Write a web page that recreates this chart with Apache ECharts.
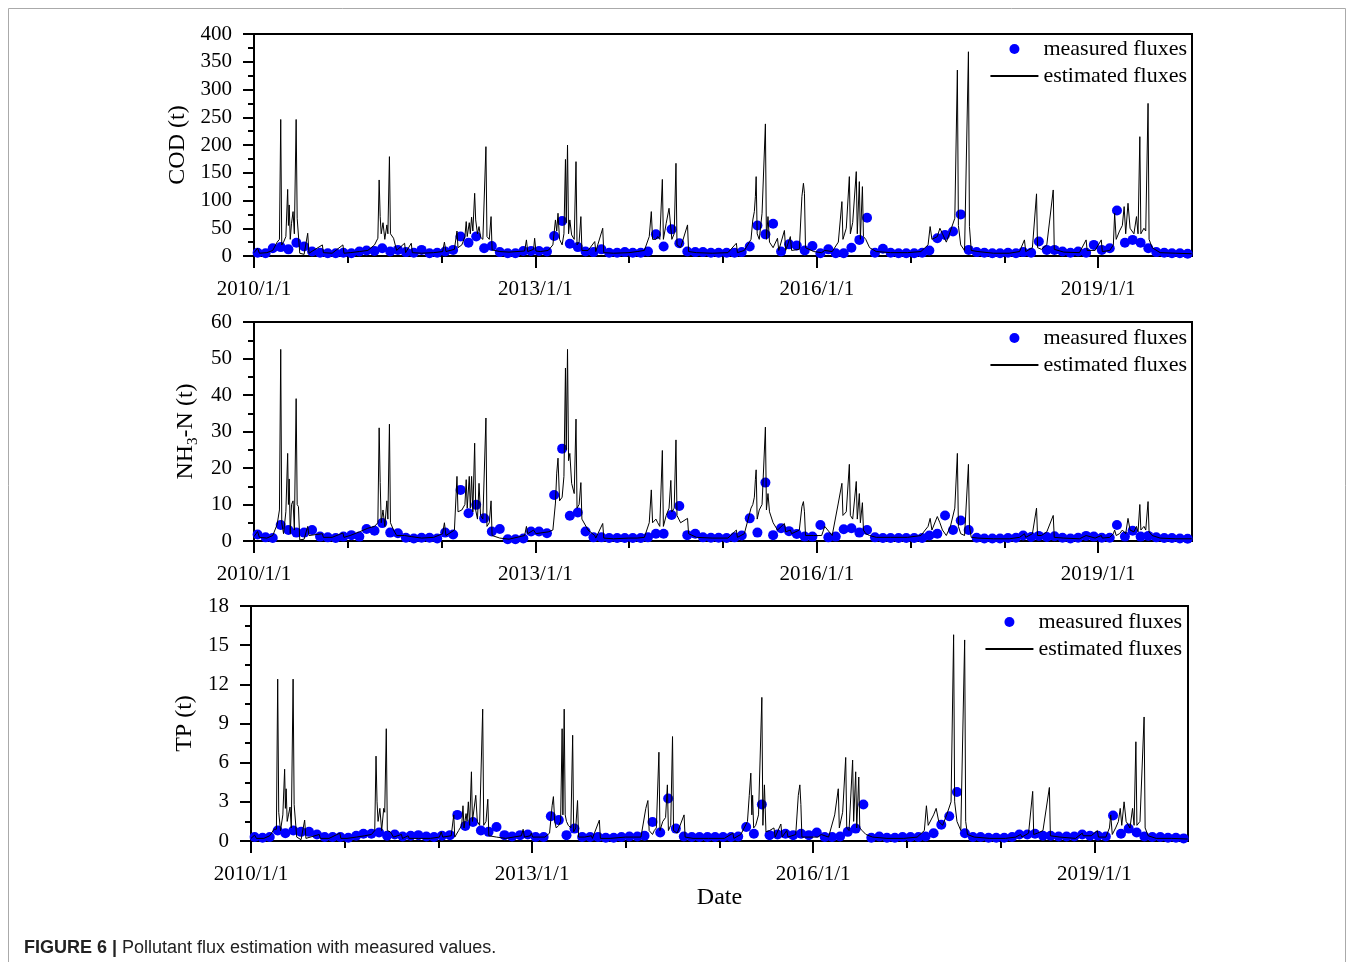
<!DOCTYPE html>
<html>
<head>
<meta charset="utf-8">
<script src="https://cdn.jsdelivr.net/npm/echarts@6/dist/echarts.min.js"></script>
<style>
  html, body { margin: 0; padding: 0; background: #fff; }
  #chart { width: 1354px; height: 962px; }
</style>
</head>
<body>
<div id="chart"></div>
<script>
  // dates of the estimated (daily model) curve, shared by the three panels
  const estDates = [
    // 2010
    '2010-01-01','2010-01-15','2010-01-22','2010-02-20','2010-03-15','2010-04-01','2010-04-10','2010-04-15','2010-04-19','2010-04-26',
    '2010-05-05','2010-05-12','2010-05-15','2010-05-18','2010-05-22','2010-05-27','2010-06-02','2010-06-07','2010-06-14','2010-06-18',
    '2010-06-23','2010-06-28','2010-07-15','2010-07-29','2010-08-03','2010-09-24','2010-09-28','2010-11-01','2010-12-13','2010-12-17',
    // 2011
    '2011-01-10','2011-02-15','2011-03-20','2011-04-15','2011-04-28','2011-05-03','2011-05-07','2011-05-11','2011-05-18','2011-05-25',
    '2011-06-02','2011-06-06','2011-06-12','2011-06-16','2011-06-28','2011-07-10','2011-08-10','2011-08-14','2011-09-05','2011-09-09',
    '2011-10-15','2011-12-01',
    // 2012
    '2012-01-05','2012-01-12','2012-01-18','2012-02-20','2012-03-01','2012-03-05','2012-03-20','2012-04-01','2012-04-06','2012-04-10',
    '2012-04-18','2012-04-22','2012-04-27','2012-05-02','2012-05-09','2012-05-13','2012-05-20','2012-05-26','2012-06-01','2012-06-10',
    '2012-06-22','2012-06-26','2012-07-05','2012-07-12','2012-07-16','2012-08-15','2012-09-20','2012-11-20','2012-11-27','2012-12-02',
    '2012-12-25','2012-12-29',
    // 2013
    '2013-01-03','2013-01-20','2013-02-20','2013-03-10','2013-03-20','2013-03-25','2013-03-30','2013-04-05','2013-04-15','2013-04-22',
    '2013-04-28','2013-05-01','2013-05-06','2013-05-10','2013-05-15','2013-05-22','2013-06-01','2013-06-08','2013-06-12','2013-06-20',
    '2013-06-27','2013-07-01','2013-07-25','2013-08-20','2013-08-24','2013-09-20','2013-09-24','2013-11-01','2013-12-31',
    // 2014
    '2014-02-01','2014-03-01','2014-03-20','2014-03-28','2014-04-02','2014-04-15','2014-04-22','2014-04-30','2014-05-10','2014-05-14',
    '2014-05-25','2014-06-05','2014-06-12','2014-06-16','2014-06-25','2014-07-02','2014-07-06','2014-07-20','2014-08-16','2014-08-20',
    '2014-09-20','2014-11-20',
    // 2015
    '2015-01-20','2015-02-22','2015-02-26','2015-03-25','2015-04-20','2015-04-27','2015-05-03','2015-05-07','2015-05-10','2015-05-14',
    '2015-05-22','2015-06-02','2015-06-15','2015-06-19','2015-06-25','2015-07-01','2015-07-15','2015-08-01','2015-08-06','2015-08-28',
    '2015-09-02','2015-09-20','2015-09-25','2015-10-25','2015-11-04','2015-11-10','2015-11-14','2015-11-18','2015-12-20',
    // 2016
    '2016-01-20','2016-02-01','2016-03-01','2016-03-25','2016-04-08','2016-04-12','2016-04-25','2016-05-07','2016-05-11','2016-05-20',
    '2016-06-03','2016-06-07','2016-06-15','2016-06-19','2016-06-27','2016-07-01','2016-07-10','2016-07-25','2016-08-20','2016-10-15',
    '2016-12-20',
    // 2017
    '2017-02-10','2017-03-10','2017-03-18','2017-03-25','2017-04-15','2017-04-25','2017-05-05','2017-05-20','2017-06-05','2017-06-22',
    '2017-07-02','2017-07-06','2017-07-15','2017-07-30','2017-08-14','2017-08-18','2017-08-25','2017-09-20','2017-11-20',
    // 2018
    '2018-01-20','2018-03-01','2018-03-20','2018-03-25','2018-04-20','2018-05-06','2018-05-10','2018-05-25','2018-06-15','2018-07-10',
    '2018-07-14','2018-08-20','2018-10-20','2018-11-15','2018-11-19','2018-12-20',
    // 2019
    '2019-01-13','2019-01-17','2019-02-15','2019-03-01','2019-03-06','2019-03-12','2019-03-25','2019-04-05','2019-04-12','2019-04-18',
    '2019-04-27','2019-05-05','2019-05-20','2019-05-30','2019-06-05','2019-06-12','2019-06-16','2019-06-28','2019-07-05','2019-07-14',
    '2019-07-18','2019-07-30','2019-08-30','2019-10-30','2019-12-31'
  ];

  const codEst = [
    6,14,5,6,10,25,30,246,20,25, 35,120,55,92,30,59,80,40,246,68, 68,5,3,41,5,20,6,5,20,5,
    6,8,10,20,32,137,71,40,60,30, 56,40,179,40,32,10,23,6,23,6, 5,6,
    8,25,8,12,45,15,20,35,62,35, 60,40,70,45,113,65,40,53,34,30, 197,35,30,71,11,8,7,9,29,8, 12,32,
    9,8,10,20,65,45,77,30,20,40, 174,60,200,40,65,38,30,170,20,25, 71,10,10,26,8,50,6,5,6,
    8,10,35,80,30,30,35,30,138,30, 59,86,89,30,40,167,20,15,56,8, 6,5,
    6,23,6,10,30,65,80,107,143,40, 30,77,238,30,71,25,15,32,10,46, 10,35,10,12,107,131,113,15,8,
    6,10,8,25,98,30,50,143,40,60, 152,40,134,30,125,35,30,15,8,6, 6,
    8,20,53,30,35,50,40,25,45,68, 335,55,20,10,368,53,10,8,5,
    5,8,29,8,15,112,15,12,20,119, 12,7,6,29,10,10,
    29,8,10,20,77,30,45,55,89,40, 95,50,40,71,40,215,40,50,45,275, 30,15,6,5,4
  ];

  const nh3Est = [
    1.2,2.6,1.0,0.8,1.5,4.5,8.5,52.5,5,2, 8,24,10,17,2,10,11,3,39,10, 9.4,0.3,0.5,4,1.5,2,1,1,2.2,1,
    1.5,2.5,3.5,4,5,31,16,5,8.5,4, 11,6,32,5,3,1.5,1.5,1,1.2,0.8, 0.8,1,
    2,5,1.5,3,17.7,8,8.5,10,16.8,9, 17.7,9,17.7,8,26.8,8.5,6,15.8,7,6, 33.7,4,5,11,1.5,0.8,0.5,1.5,4,2, 3,3.5,
    2,2.2,2.5,3,10.4,18.6,22.7,11,12,17.7, 47.4,25,52.5,22,24,15.8,13,33.4,9,10, 16,6,3,1.5,0.8,4.8,0.8,0.6,0.8,
    0.8,1,5,14,5,6,5,4,24.8,4, 7,9,16.6,8,9,27.7,7,5,6.2,2, 1,0.8,
    0.8,3,1,2,9,10,12,16.8,19.5,6, 8.5,10,31.2,8.5,13,8,5,3,2.5,4.8, 2.5,3,2,3,9.4,10.8,8,1.5,1.5,
    1.5,4,1.5,10.4,15.8,7,8,21,7,6, 16.3,6,13,5,10.5,3,2,1.5,1,1, 1,
    1.5,4,6.2,3,6.7,5,3,1.5,4,9, 24,4,2,1.5,21,4,1,0.8,0.6,
    0.6,1,2,1,2,9,1.5,1.5,2.5,7, 1,0.8,0.6,1.5,1,0.8,
    1.5,0.8,1,2,3,1.5,2,3,3.5,2, 6.2,3,2.5,4,2.5,10,3,4,3,10.8, 2.5,1.5,0.8,0.6,0.6
  ];

  const tpEst = [
    0.2,0.45,0.2,0.2,0.4,0.9,0.9,12.4,2.2,0.8, 2,5.5,2.5,4,1.5,2,2.6,1,12.4,2.8, 2.7,0.3,0.1,1.6,0.2,0.5,0.2,0.2,0.6,0.2,
    0.2,0.3,0.4,0.5,0.8,6.5,3,1.5,2.5,0.8, 2.5,2.2,8.6,0.8,0.7,0.3,0.5,0.2,0.4,0.2, 0.2,0.2,
    0.3,0.7,0.3,0.4,2,0.3,0.8,1.2,2.7,1, 2.1,1.5,3,1.2,5.3,1.5,1.5,3.5,1.5,1.2, 10.1,1.2,1.5,3.2,0.4,0.3,0.2,0.4,0.9,0.3, 0.4,0.6,
    0.3,0.3,0.3,0.6,2.7,3.4,1.5,1,1.2,1.5, 8.6,2,10.1,2,1.5,1.2,1,8.1,0.7,1, 3.1,0.3,0.3,0.4,0.2,1.6,0.2,0.2,0.3,
    0.3,0.3,2.5,3.1,0.8,0.5,0.8,1,6.8,0.8, 1.5,1.8,4.3,0.8,1.2,8,0.8,0.6,2,0.3, 0.2,0.2,
    0.2,0.6,0.2,0.5,1.5,3.5,5.2,2,3.5,1, 1.2,2,11,1.2,4.3,0.7,0.8,1,0.3,1.3, 0.3,0.8,0.3,0.5,3.5,4.3,2.8,0.3,0.3,
    0.3,0.5,0.3,2,4,1,2.2,6.4,1,0.8, 6.2,1.5,5.3,1,4.9,1,0.8,0.5,0.3,0.2, 0.2,
    0.3,0.8,2.7,1.2,2,2.5,1.5,1.2,2,3, 15.8,3,1.5,0.8,15.4,1.5,0.5,0.3,0.2,
    0.2,0.3,0.5,0.3,0.6,3.8,0.5,0.6,0.8,4.1, 0.4,0.3,0.2,0.6,0.4,0.4,
    0.8,0.3,0.3,1,2,0.5,1,1.5,2.5,1.2, 3,1.5,1,2.5,1.2,7.6,1.2,1.5,1.5,9.5, 1,0.4,0.2,0.2,0.15
  ];

  // measured fluxes, one sample per month (Jan..Dec), 2010-2019
  const codMeasured = [
    6,5,14,16,12,24,17,8,6,5,5,6,
    5,8,10,9,14,8,11,7,6,11,5,6,
    8,11,35,24,35,14,18,7,5,5,9,9,
    9,8,36,63,22,16,8,7,12,6,6,7,
    6,6,8,39,17,48,23,8,7,7,6,6,
    6,6,7,17,55,39,58,8,21,19,10,18,
    5,12,5,5,15,29,69,6,13,6,5,5,
    5,6,10,32,38,44,75,11,7,6,5,5,
    6,5,7,6,26,11,11,8,6,8,6,20,
    11,14,82,24,29,24,14,7,6,5,5,4
  ];
  const nh3Measured = [
    1.8,1.0,0.8,4.4,3.0,2.3,2.3,3.0,1.2,1.0,0.8,1.2,
    1.6,1.2,3.3,2.8,4.9,2.3,2.1,0.9,0.7,0.9,0.9,0.7,
    2.3,1.8,14,7.6,9.9,6.2,2.6,3.3,0.5,0.5,0.7,2.6,
    2.6,2.1,12.6,25.3,6.9,7.8,2.6,1.0,1.0,0.8,0.8,0.8,
    0.8,0.8,1.0,2.0,2.0,7.1,9.6,1.6,2.0,1.0,0.9,0.9,
    0.8,1.0,1.5,6.2,2.3,16,1.6,3.5,2.7,1.9,1.2,1.2,
    4.4,1.0,1.2,3.2,3.5,2.3,3.0,1.0,0.8,0.8,0.8,0.8,
    0.8,0.8,1.5,2.0,7.0,3.0,5.6,3.0,0.9,0.7,0.7,0.7,
    0.8,0.9,1.5,1.1,1.4,1.1,1.3,0.9,0.7,0.9,1.4,1.2,
    0.9,0.9,4.4,1.2,2.8,1.2,1.4,1.0,0.8,0.8,0.7,0.6
  ];
  const tpMeasured = [
    0.3,0.25,0.3,0.8,0.6,0.8,0.7,0.7,0.5,0.3,0.3,0.3,
    0.25,0.4,0.55,0.55,0.65,0.4,0.5,0.35,0.4,0.45,0.35,0.3,
    0.4,0.45,2.0,1.15,1.45,0.8,0.7,1.07,0.45,0.35,0.45,0.5,
    0.3,0.3,1.9,1.6,0.45,0.95,0.3,0.3,0.3,0.25,0.25,0.3,
    0.35,0.35,0.4,1.45,0.65,3.25,0.95,0.35,0.3,0.3,0.3,0.3,
    0.3,0.3,0.35,1.07,0.56,2.8,0.45,0.5,0.56,0.45,0.55,0.45,
    0.65,0.3,0.3,0.35,0.7,0.95,2.8,0.25,0.35,0.25,0.25,0.3,
    0.3,0.3,0.35,0.6,1.25,1.9,3.75,0.6,0.3,0.3,0.25,0.25,
    0.25,0.3,0.5,0.5,0.55,0.4,0.4,0.35,0.35,0.35,0.5,0.4,
    0.4,0.35,1.95,0.56,0.95,0.65,0.35,0.3,0.3,0.25,0.25,0.2
  ];

  const yearTicks = [2010, 2013, 2016, 2019];
  const minorYears = [2011, 2012, 2014, 2015, 2017, 2018];

  // 'YYYY-MM-DD' -> fractional year
  const toYear = (s) => {
    const [y, m, d] = s.split('-').map(Number);
    const t0 = Date.UTC(y, 0, 1), t1 = Date.UTC(y + 1, 0, 1);
    return y + (Date.UTC(y, m - 1, d) - t0) / (t1 - t0);
  };
  const sampleDates = [];
  for (let y = 2010; y <= 2019; y++) {
    for (let m = 1; m <= 12; m++) {
      sampleDates.push(y + '-' + String(m).padStart(2, '0') + '-15');
    }
  }

  const FONT = 'Liberation Serif';
  const panels = [
    { name: 'COD (t)', est: codEst, meas: codMeasured, max: 400, step: 50,
      grid: { left: 254, top: 34, width: 938, height: 222 }, nameGap: 64, legendTop: 38, legendRight: 167 },
    { name: '{a|NH}{s|3}{a|-N (t)}', est: nh3Est, meas: nh3Measured, max: 60, step: 10,
      grid: { left: 254, top: 322, width: 938, height: 219 }, nameGap: 50, legendTop: 327, legendRight: 167 },
    { name: 'TP (t)', est: tpEst, meas: tpMeasured, max: 18, step: 3,
      grid: { left: 251, top: 606, width: 937, height: 235 }, nameGap: 49, legendTop: 611, legendRight: 172 }
  ];

  const chart = echarts.init(document.getElementById('chart'), null, { renderer: 'canvas' });

  const option = {
    animation: false,
    backgroundColor: '#fff',
    title: {
      left: 24, top: 939, padding: 0,
      text: '{b|FIGURE 6 |} Pollutant flux estimation with measured values.',
      textStyle: {
        fontFamily: 'Liberation Sans', fontSize: 18, fontWeight: 'normal', color: '#222',
        rich: { b: { fontFamily: 'Liberation Sans', fontSize: 18, fontWeight: 'bold', color: '#222' } }
      }
    },
    graphic: [{
      type: 'rect', silent: true,
      shape: { x: 8.5, y: 8.5, width: 1337, height: 980 },
      style: { fill: 'none', stroke: '#aaa', lineWidth: 1 }
    }],
    grid: panels.map(p => Object.assign({ show: true, borderColor: '#000', borderWidth: 2 }, p.grid)),
    legend: panels.map(p => ({
      orient: 'vertical', right: p.legendRight, top: p.legendTop, padding: 0,
      itemWidth: 48, itemHeight: 10, itemGap: 5, align: 'left',
      textStyle: { fontFamily: FONT, fontSize: 22, lineHeight: 22, color: '#000' },
      data: [
        { name: 'measured fluxes', icon: 'circle' },
        { name: 'estimated fluxes', itemStyle: { opacity: 0 } }
      ]
    })),
    xAxis: [],
    yAxis: [],
    series: []
  };

  panels.forEach((p, i) => {
    // minor (yearly) ticks + labels
    option.xAxis.push({
      type: 'value', gridIndex: i, min: 2010, max: 2020, interval: 1,
      axisLine: { show: true, onZero: false, lineStyle: { color: '#000', width: 2 } },
      axisTick: { show: true, length: 7, lineStyle: { width: 2, color: '#000' }, customValues: minorYears },
      axisLabel: {
        customValues: yearTicks, margin: 23,
        fontFamily: FONT, fontSize: 21, color: '#000',
        formatter: v => (yearTicks.indexOf(v) >= 0 ? v + '/1/1' : '')
      },
      splitLine: { show: false },
      name: i === 2 ? 'Date' : '', nameLocation: 'middle', nameGap: 44,
      nameTextStyle: { fontFamily: FONT, fontSize: 24, color: '#000' }
    });
    // major ticks every three years
    option.xAxis.push({
      type: 'value', gridIndex: i, min: 2010, max: 2020, interval: 3, position: 'bottom',
      axisLine: { show: false },
      axisTick: { show: true, length: 12, lineStyle: { width: 2, color: '#000' }, customValues: yearTicks },
      axisLabel: { show: false },
      splitLine: { show: false }
    });
    option.yAxis.push({
      type: 'value', gridIndex: i, min: 0, max: p.max, interval: p.step,
      axisLine: { show: true, lineStyle: { color: '#000', width: 2 } },
      axisTick: { show: true, length: 11, lineStyle: { width: 2, color: '#000' } },
      minorTick: { show: true, splitNumber: 2, length: 6, lineStyle: { width: 2, color: '#000' } },
      axisLabel: { fontFamily: FONT, fontSize: 21, color: '#000', margin: 22 },
      splitLine: { show: false },
      name: p.name, nameLocation: 'middle', nameGap: p.nameGap,
      nameTextStyle: {
        fontFamily: FONT, fontSize: 24, color: '#000',
        rich: {
          a: { fontFamily: FONT, fontSize: 24, lineHeight: 28, color: '#000' },
          s: { fontFamily: FONT, fontSize: 15, lineHeight: 15, verticalAlign: 'bottom', color: '#000' }
        }
      }
    });
    option.series.push({
      name: 'measured fluxes', type: 'scatter', xAxisIndex: i * 2, yAxisIndex: i,
      symbol: 'circle', symbolSize: 10, z: 2,
      itemStyle: { color: '#0000ff', opacity: 1 },
      data: sampleDates.map((d, k) => [toYear(d), p.meas[k]])
    });
    option.series.push({
      name: 'estimated fluxes', type: 'line', xAxisIndex: i * 2, yAxisIndex: i,
      symbol: 'none', showSymbol: false, z: 3,
      lineStyle: { color: '#000', width: 1 },
      itemStyle: { color: '#000' },
      data: estDates.map((d, k) => [toYear(d), p.est[k]])
    });
  });

  chart.setOption(option);
</script>
</body>
</html>
